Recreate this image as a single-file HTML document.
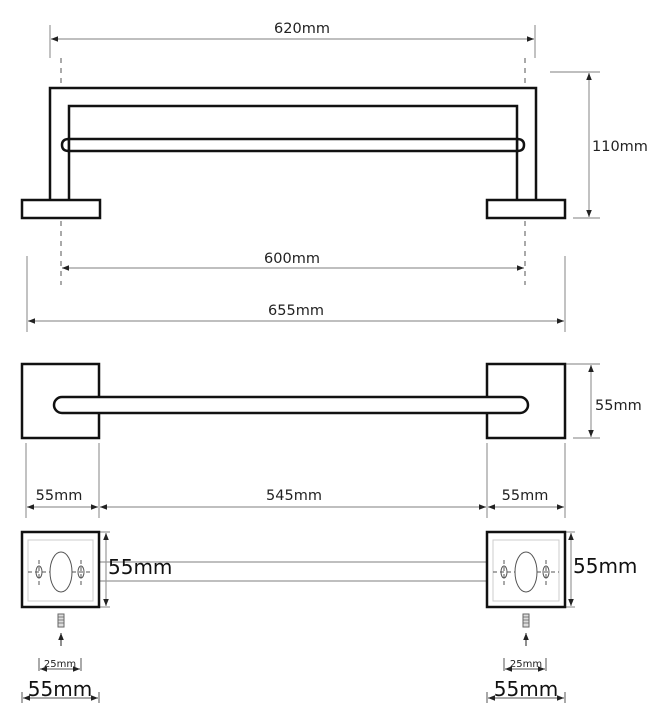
<!DOCTYPE html>
<html><head><meta charset="utf-8"><style>
html,body{margin:0;padding:0;background:#fff;}
svg{display:block;font-family:"DejaVu Sans","Liberation Sans",sans-serif;}
</style></head><body>
<svg width="671" height="725" viewBox="0 0 671 725" xmlns="http://www.w3.org/2000/svg">
<defs>
<marker id="a" viewBox="0 0 10 10" refX="10" refY="5" markerWidth="7" markerHeight="7" orient="auto-start-reverse" markerUnits="userSpaceOnUse"><path d="M0,1 L10,5 L0,9 z" fill="#222"/></marker>
</defs>
<g stroke="#999" stroke-width="1.2" fill="none">
<line x1="50" y1="25" x2="50" y2="58"/><line x1="535" y1="25" x2="535" y2="58"/>
<line x1="51" y1="39" x2="534" y2="39" marker-start="url(#a)" marker-end="url(#a)"/>
<line x1="550" y1="72" x2="600" y2="72"/><line x1="573" y1="218" x2="600" y2="218"/>
<line x1="589" y1="73" x2="589" y2="217" marker-start="url(#a)" marker-end="url(#a)"/>
<line x1="62" y1="268" x2="524" y2="268" marker-start="url(#a)" marker-end="url(#a)"/>
<line x1="27" y1="256" x2="27" y2="332"/><line x1="565" y1="256" x2="565" y2="332"/>
<line x1="28" y1="321" x2="564" y2="321" marker-start="url(#a)" marker-end="url(#a)"/>
<line x1="550" y1="364" x2="600" y2="364"/><line x1="573" y1="438" x2="600" y2="438"/>
<line x1="591" y1="365" x2="591" y2="437" marker-start="url(#a)" marker-end="url(#a)"/>
<line x1="26" y1="443" x2="26" y2="518"/><line x1="99" y1="443" x2="99" y2="518"/>
<line x1="487" y1="443" x2="487" y2="518"/><line x1="565" y1="443" x2="565" y2="518"/>
<line x1="27" y1="507" x2="98" y2="507" marker-start="url(#a)" marker-end="url(#a)"/>
<line x1="100" y1="507" x2="486" y2="507" marker-start="url(#a)" marker-end="url(#a)"/>
<line x1="488" y1="507" x2="564" y2="507" marker-start="url(#a)" marker-end="url(#a)"/>
<line x1="99" y1="562" x2="487" y2="562"/><line x1="99" y1="581" x2="487" y2="581"/>
<line x1="100" y1="532" x2="110" y2="532"/><line x1="100" y1="607" x2="110" y2="607"/>
<line x1="106" y1="533" x2="106" y2="606" marker-start="url(#a)" marker-end="url(#a)"/>
<line x1="565" y1="532" x2="575" y2="532"/><line x1="565" y1="607" x2="575" y2="607"/>
<line x1="571" y1="533" x2="571" y2="606" marker-start="url(#a)" marker-end="url(#a)"/>
</g>
<g stroke="#555" stroke-width="1" fill="none" stroke-dasharray="5,5">
<line x1="61" y1="58" x2="61" y2="86"/><line x1="525" y1="58" x2="525" y2="86"/>
<line x1="61" y1="221" x2="61" y2="285"/><line x1="525" y1="221" x2="525" y2="285"/>
</g>
<g stroke="#111" stroke-width="2.5" fill="none">
<path d="M50,200 V88 H536 V200"/>
<path d="M69,200 V106 H517 V200"/>
<path d="M69,139 H517 V151 H69 Z" fill="#fff"/>
<path d="M69,139 Q62,139 62,145 Q62,151 69,151"/>
<path d="M517,139 Q524,139 524,145 Q524,151 517,151"/>
<rect x="22" y="200" width="78" height="18" fill="#fff"/>
<rect x="487" y="200" width="78" height="18" fill="#fff"/>
</g>
<g stroke="#111" stroke-width="2.5" fill="#fff">
<rect x="22" y="364" width="77" height="74"/>
<rect x="487" y="364" width="78" height="74"/>
<path d="M62,397 H520 A8,8 0 0 1 520,413 H62 A8,8 0 0 1 62,397 Z"/>
</g>
<g>
<rect x="22" y="532" width="77" height="75" fill="#fff" stroke="#111" stroke-width="2.5"/>
<rect x="28" y="540" width="65" height="61" fill="none" stroke="#ccc" stroke-width="1"/>
<ellipse cx="61" cy="572" rx="11" ry="20" fill="none" stroke="#555"/>
<ellipse cx="39" cy="572" rx="3" ry="6" fill="none" stroke="#555"/>
<ellipse cx="81" cy="572" rx="3" ry="6" fill="none" stroke="#555"/>
<g stroke="#555" stroke-dasharray="4,3"><line x1="28" y1="572" x2="50" y2="572"/><line x1="72" y1="572" x2="93" y2="572"/><line x1="39" y1="560" x2="39" y2="586"/><line x1="81" y1="560" x2="81" y2="586"/></g>
<rect x="487" y="532" width="78" height="75" fill="#fff" stroke="#111" stroke-width="2.5"/>
<rect x="493" y="540" width="66" height="61" fill="none" stroke="#ccc" stroke-width="1"/>
<ellipse cx="526" cy="572" rx="11" ry="20" fill="none" stroke="#555"/>
<ellipse cx="504" cy="572" rx="3" ry="6" fill="none" stroke="#555"/>
<ellipse cx="546" cy="572" rx="3" ry="6" fill="none" stroke="#555"/>
<g stroke="#555" stroke-dasharray="4,3"><line x1="493" y1="572" x2="515" y2="572"/><line x1="537" y1="572" x2="559" y2="572"/><line x1="504" y1="560" x2="504" y2="586"/><line x1="546" y1="560" x2="546" y2="586"/></g>
<rect x="58" y="614" width="6" height="13" fill="#ddd" stroke="#666"/>
<rect x="523" y="614" width="6" height="13" fill="#ddd" stroke="#666"/>
<g stroke="#666" stroke-width="0.8"><line x1="58" y1="617" x2="64" y2="617"/><line x1="58" y1="620" x2="64" y2="620"/><line x1="58" y1="623" x2="64" y2="623"/><line x1="523" y1="617" x2="529" y2="617"/><line x1="523" y1="620" x2="529" y2="620"/><line x1="523" y1="623" x2="529" y2="623"/></g>
<g stroke="#222" stroke-width="1"><line x1="61" y1="646" x2="61" y2="633" marker-end="url(#a)"/><line x1="526" y1="646" x2="526" y2="633" marker-end="url(#a)"/></g>
<g stroke="#555" stroke-width="1" fill="none">
<line x1="39" y1="658" x2="39" y2="671"/><line x1="81" y1="658" x2="81" y2="671"/>
<line x1="40" y1="669" x2="80" y2="669" marker-start="url(#a)" marker-end="url(#a)"/>
<line x1="504" y1="658" x2="504" y2="671"/><line x1="546" y1="658" x2="546" y2="671"/>
<line x1="505" y1="669" x2="545" y2="669" marker-start="url(#a)" marker-end="url(#a)"/>
<line x1="22" y1="692" x2="22" y2="703"/><line x1="99" y1="692" x2="99" y2="703"/>
<line x1="23" y1="698" x2="98" y2="698" marker-start="url(#a)" marker-end="url(#a)"/>
<line x1="487" y1="692" x2="487" y2="703"/><line x1="565" y1="692" x2="565" y2="703"/>
<line x1="488" y1="698" x2="564" y2="698" marker-start="url(#a)" marker-end="url(#a)"/>
</g>
</g>
<g fill="#222" font-size="14.5">
<text x="302" y="33" text-anchor="middle">620mm</text>
<text x="592" y="151">110mm</text>
<text x="292" y="263" text-anchor="middle">600mm</text>
<text x="296" y="315" text-anchor="middle">655mm</text>
<text x="595" y="410">55mm</text>
<text x="59" y="500" text-anchor="middle">55mm</text>
<text x="294" y="500" text-anchor="middle">545mm</text>
<text x="525" y="500" text-anchor="middle">55mm</text>
<text x="60" y="667" text-anchor="middle" font-size="10">25mm</text>
<text x="526" y="667" text-anchor="middle" font-size="10">25mm</text>
</g>
<g fill="#111" font-size="20">
<text x="108" y="574">55mm</text>
<text x="573" y="573">55mm</text>
<text x="60" y="696" text-anchor="middle">55mm</text>
<text x="526" y="696" text-anchor="middle">55mm</text>
</g>
</svg>
</body></html>
